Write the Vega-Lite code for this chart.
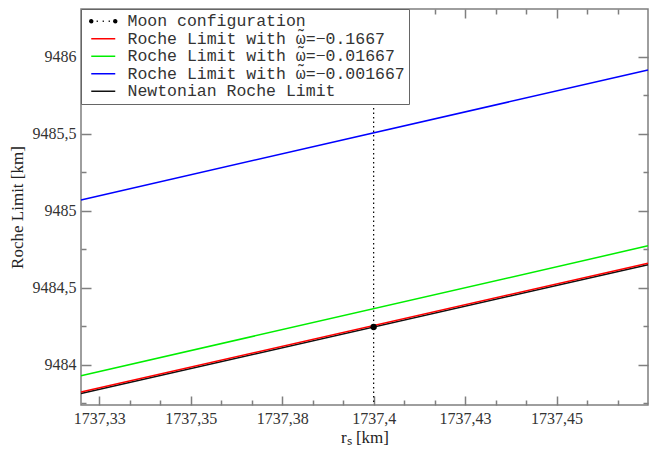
{
  "$schema": "https://vega.github.io/schema/vega-lite/v6.json",
  "width": 567,
  "height": 396,
  "autosize": "none",
  "padding": {"left": 81, "top": 9, "right": 6, "bottom": 45},
  "background": "white",
  "config": {
    "view": {"stroke": "#7f7f7f", "strokeWidth": 1.5},
    "axis": {
      "grid": false,
      "labelFont": "Liberation Serif",
      "labelFontSize": 16,
      "labelColor": "#333333",
      "titleFont": "Liberation Serif",
      "titleFontSize": 17,
      "titleFontWeight": "normal",
      "titleColor": "#222222"
    }
  },
  "data": {
    "values": [
      {"series": "Roche Limit with ω̃=−0.001667", "r": 1737.32, "R": 9485.071},
      {"series": "Roche Limit with ω̃=−0.001667", "r": 1737.475, "R": 9485.914},
      {"series": "Roche Limit with ω̃=−0.01667", "r": 1737.32, "R": 9483.93},
      {"series": "Roche Limit with ω̃=−0.01667", "r": 1737.475, "R": 9484.773},
      {"series": "Newtonian Roche Limit", "r": 1737.32, "R": 9483.815},
      {"series": "Newtonian Roche Limit", "r": 1737.475, "R": 9484.65},
      {"series": "Roche Limit with ω̃=−0.1667", "r": 1737.32, "R": 9483.825},
      {"series": "Roche Limit with ω̃=−0.1667", "r": 1737.475, "R": 9484.66}
    ]
  },
  "layer": [
    {
      "transform": [{"filter": "indexof(datum.series, '0.001667') >= 0 || indexof(datum.series, '0.01667') >= 0"}],
      "mark": {"type": "line", "strokeWidth": 1.5},
      "encoding": {
        "x": {
          "field": "r", "type": "quantitative",
          "scale": {"domain": [1737.32, 1737.475], "nice": false, "zero": false},
          "axis": {
            "orient": "bottom",
            "values": [1737.325, 1737.35, 1737.375, 1737.4, 1737.425, 1737.45],
            "labelExpr": "replace(format(datum.value + 1e-9, '.2~f'), '.', ',')",
            "ticks": false, "domain": false, "labelPadding": 5,
            "title": "rₛ [km]", "titlePadding": 3
          }
        },
        "y": {
          "field": "R", "type": "quantitative",
          "scale": {"domain": [9483.74, 9486.31], "nice": false, "zero": false},
          "axis": {
            "orient": "left",
            "values": [9484, 9484.5, 9485, 9485.5, 9486],
            "labelExpr": "replace(format(datum.value, '.1~f'), '.', ',')",
            "ticks": false, "domain": false, "labelPadding": 5,
            "title": "Roche Limit [km]", "titlePadding": 6
          }
        },
        "color": {
          "field": "series",
          "type": "nominal",
          "scale": {
            "domain": ["Moon configuration", "Roche Limit with ω̃=−0.1667", "Roche Limit with ω̃=−0.01667", "Roche Limit with ω̃=−0.001667", "Newtonian Roche Limit"],
            "range": ["#000000", "#ff0000", "#00ee00", "#0000ff", "#111111"]
          },
          "legend": {
            "orient": "top-left",
            "offset": 0,
            "title": null,
            "padding": 4,
            "fillColor": "white",
            "strokeColor": "#666666",
            "labelFont": "Liberation Mono",
            "labelFontSize": 16.5,
            "labelColor": "#333333",
            "labelLimit": 500,
            "labelOffset": 16,
            "symbolSize": 144,
            "symbolStrokeWidth": 1.5,
            "symbolOffset": 10,
            "rowPadding": 0.5,
            "encode": {
              "symbols": {
                "update": {
                  "shape": {"signal": "datum.value === 'Moon configuration' ? 'M-2.25,0a0.25,0.25 0 1,0 0.5,0a0.25,0.25 0 1,0 -0.5,0M1.75,0a0.25,0.25 0 1,0 0.5,0a0.25,0.25 0 1,0 -0.5,0M-1.1,0L-0.9,0M-0.1,0L0.1,0M0.9,0L1.1,0' : 'M-2,0L2,0'"},
                  "fill": {"signal": "datum.value === 'Moon configuration' ? '#000000' : 'transparent'"},
                  "stroke": {"scale": "color", "field": "value"}
                }
              }
            }
          }
        }
      }
    },
    {
      "transform": [{"filter": "datum.series === 'Newtonian Roche Limit'"}],
      "mark": {"type": "line", "strokeWidth": 1.5, "color": "#111111"},
      "encoding": {
        "x": {
          "field": "r", "type": "quantitative",
          "axis": {
            "orient": "bottom",
            "values": [1737.325, 1737.333333, 1737.341667, 1737.35, 1737.358333, 1737.366667, 1737.375, 1737.383333, 1737.391667, 1737.4, 1737.408333, 1737.416667, 1737.425, 1737.433333, 1737.441667, 1737.45, 1737.458333, 1737.466667],
            "labels": false, "domain": false, "title": null,
            "tickColor": "#7f7f7f", "tickWidth": 1.5,
            "tickSize": {"condition": {"test": "abs(datum.value*40 - round(datum.value*40)) < 0.05", "value": -9}, "value": -5}
          }
        },
        "y": {
          "field": "R", "type": "quantitative",
          "axis": {
            "orient": "right",
            "values": [9483.75, 9484, 9484.25, 9484.5, 9484.75, 9485, 9485.25, 9485.5, 9485.75, 9486],
            "labels": false, "domain": false, "title": null,
            "tickColor": "#7f7f7f", "tickWidth": 1.5,
            "tickSize": {"condition": {"test": "abs(datum.value*2 - round(datum.value*2)) < 0.05", "value": -10}, "value": -5}
          }
        }
      }
    },
    {
      "transform": [{"filter": "datum.series === 'Roche Limit with ω̃=−0.1667'"}],
      "mark": {"type": "line", "strokeWidth": 1.5, "color": "#ff0000"},
      "encoding": {
        "x": {
          "field": "r", "type": "quantitative",
          "axis": {
            "orient": "top",
            "values": [1737.325, 1737.333333, 1737.341667, 1737.35, 1737.358333, 1737.366667, 1737.375, 1737.383333, 1737.391667, 1737.4, 1737.408333, 1737.416667, 1737.425, 1737.433333, 1737.441667, 1737.45, 1737.458333, 1737.466667],
            "labels": false, "domain": false, "title": null,
            "tickColor": "#7f7f7f", "tickWidth": 1.5,
            "tickSize": {"condition": {"test": "abs(datum.value*40 - round(datum.value*40)) < 0.05", "value": -9}, "value": -5}
          }
        },
        "y": {
          "field": "R", "type": "quantitative",
          "axis": {
            "orient": "left",
            "values": [9483.75, 9484, 9484.25, 9484.5, 9484.75, 9485, 9485.25, 9485.5, 9485.75, 9486],
            "labels": false, "domain": false, "title": null,
            "tickColor": "#7f7f7f", "tickWidth": 1.5,
            "tickSize": {"condition": {"test": "abs(datum.value*2 - round(datum.value*2)) < 0.05", "value": -10}, "value": -5}
          }
        }
      }
    },
    {
      "data": {"values": [{"r": 1737.4}]},
      "mark": {"type": "rule", "strokeDash": [1.5, 3], "strokeWidth": 1.2, "color": "#000000"},
      "encoding": {
        "x": {"field": "r", "type": "quantitative", "axis": null}
      }
    },
    {
      "data": {"values": [{"r": 1737.4, "R": 9484.246}]},
      "mark": {"type": "point", "filled": true, "size": 40, "opacity": 1, "color": "#000000"},
      "encoding": {
        "x": {"field": "r", "type": "quantitative", "axis": null},
        "y": {"field": "R", "type": "quantitative", "axis": null}
      }
    }
  ],
  "resolve": {"axis": {"x": "independent", "y": "independent"}}
}
